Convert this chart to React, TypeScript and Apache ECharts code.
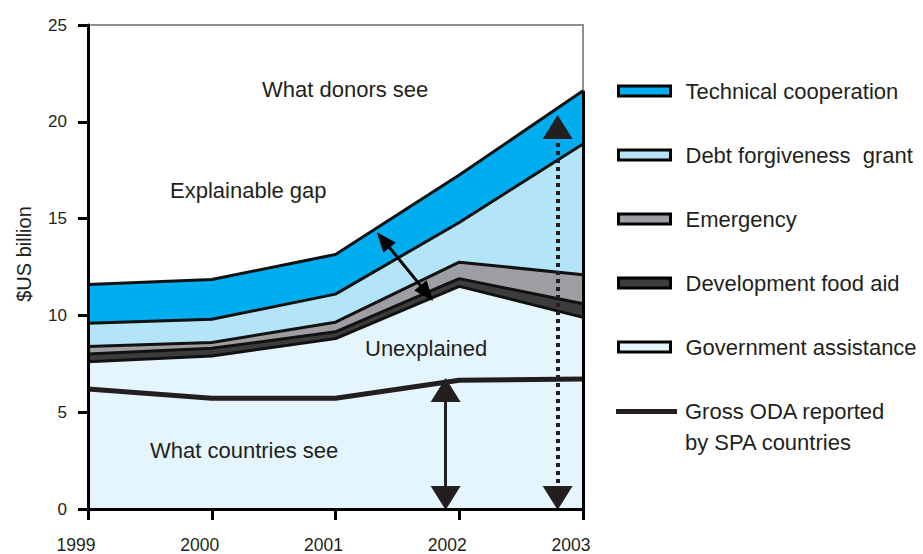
import React, { useEffect, useRef } from "react";
import * as echarts from "echarts";

const years = [1999, 2000, 2001, 2002, 2003];
const governmentAssistance = [7.6, 7.9, 8.8, 11.5, 9.9];
const developmentFoodAid = [0.4, 0.4, 0.35, 0.4, 0.7];
const emergency = [0.4, 0.3, 0.5, 0.85, 1.5];
const debtForgiveness = [1.2, 1.2, 1.45, 2.05, 6.75];
const technicalCooperation = [2.0, 2.05, 2.05, 2.45, 2.75];
const grossODA = [6.2, 5.72, 5.72, 6.65, 6.72];

const yTicks = { min: 0, max: 25, interval: 5 };

// annotation arrows (data coordinates: [year, $US billion])
const arrowCountries = [[2001.89, 6.15], [2001.89, 0.57]];
const arrowDonors = [[2002.795, 19.73], [2002.795, 0.57]];
const arrowGap = [[2001.386, 13.9], [2001.737, 11.15]];

const annotations = [
  { text: "What donors see", x: 262, y: 89 },
  { text: "Explainable gap", x: 170, y: 190 },
  { text: "Unexplained", x: 365, y: 348 },
  { text: "What countries see", x: 150, y: 450 },
];

const FONT = "'Liberation Sans', Arial, Helvetica, sans-serif";
const TEXT = "#231f20";

const areaDefs = [
  { name: "Government assistance", values: governmentAssistance, color: "#e5f5fd", z: 10 },
  { name: "Development food aid", values: developmentFoodAid, color: "#3c3c3c", z: 9 },
  { name: "Emergency", values: emergency, color: "#9d9ea1", z: 8 },
  { name: "Debt forgiveness  grant", values: debtForgiveness, color: "#b4e4f8", z: 7 },
  { name: "Technical cooperation", values: technicalCooperation, color: "#00aeef", z: 6 },
];

const odaName = "Gross ODA reported\nby SPA countries";

export default function App() {
  const ref = useRef<HTMLDivElement>(null);
  useEffect(() => {
    if (!ref.current) return;
    const chart = echarts.init(ref.current, null, { renderer: "svg" });
    const lastIdx = years.length - 1;
    const totalLast = areaDefs.reduce((s, d) => s + d.values[lastIdx], 0);

    const areaSeries = areaDefs.map((d) => ({
      name: d.name,
      type: "line",
      stack: "total",
      symbol: "none",
      xAxisIndex: 0,
      z: d.z,
      data: d.values,
      itemStyle: { color: d.color },
      lineStyle: { color: "#111", width: 3 },
      areaStyle: { color: d.color, opacity: 1 },
    }));

    const pt = (p: number[], extra: any = {}) => ({ coord: p, ...extra });

    const option: any = {
      animation: false,
      grid: {
        left: 88,
        right: 340,
        top: 25,
        bottom: 45,
        containLabel: false,
        outerBoundsMode: "none",
        show: true,
        borderColor: "#8f8f8f",
        borderWidth: 2,
        backgroundColor: "transparent",
      },
      xAxis: [
        {
          type: "category",
          data: years.map(String),
          boundaryGap: false,
          z: 30,
          axisLine: { show: true, lineStyle: { color: "#000", width: 3 } },
          axisTick: { show: true, length: 11, alignWithLabel: true, lineStyle: { color: "#000", width: 3 } },
          splitLine: { show: false },
          axisLabel: {
            fontSize: 17.5,
            lineHeight: 17,
            color: TEXT,
            fontFamily: FONT,
            margin: 27,
            padding: [0, 24, 0, 0],
          },
        },
        {
          type: "value",
          min: years[0],
          max: years[years.length - 1],
          interval: 1,
          show: false,
        },
      ],
      yAxis: {
        type: "value",
        min: yTicks.min,
        max: yTicks.max,
        interval: yTicks.interval,
        z: 30,
        name: "$US billion",
        nameLocation: "middle",
        nameGap: 54,
        nameTextStyle: { fontSize: 20, color: TEXT, fontFamily: FONT, padding: [0, 0, 0, 26] },
        axisLine: { show: true, lineStyle: { color: "#000", width: 3 } },
        axisTick: { show: true, length: 10, lineStyle: { color: "#000", width: 3 } },
        splitLine: { show: false },
        axisLabel: { fontSize: 17, color: TEXT, fontFamily: FONT, margin: 21 },
      },
      legend: [
        {
          orient: "vertical",
          left: 617,
          top: 79,
          padding: 0,
          itemWidth: 52,
          itemHeight: 10,
          itemGap: 40,
          icon: "rect",
          selectedMode: false,
          textStyle: { fontSize: 22, color: TEXT, fontFamily: FONT, lineHeight: 24, padding: [0, 0, 0, 10] },
          data: [...areaDefs].reverse().map((d) => ({
            name: d.name,
            itemStyle: { color: d.color, borderColor: "#000", borderWidth: 3 },
          })),
        },
        {
          orient: "vertical",
          left: 616,
          top: 365,
          padding: 0,
          itemWidth: 61,
          itemHeight: 5,
          icon: "rect",
          selectedMode: false,
          formatter: (name: string) => "\n" + name,
          textStyle: { fontSize: 22, color: TEXT, fontFamily: FONT, lineHeight: 31, padding: [0, 0, 0, 3] },
          data: [{ name: odaName, itemStyle: { color: TEXT, borderWidth: 0 } }],
        },
      ],
      series: [
        ...areaSeries,
        {
          name: odaName,
          type: "line",
          symbol: "none",
          xAxisIndex: 1,
          z: 20,
          data: years.map((y, i) => [y, grossODA[i]]),
          itemStyle: { color: TEXT },
          lineStyle: { color: TEXT, width: 5 },
          markLine: {
            silent: true,
            animation: false,
            z: 25,
            symbol: ["none", "none"],
            label: { show: false },
            emphasis: { disabled: true },
            data: [
              [
                pt([years[lastIdx], 0], { lineStyle: { color: "#000", width: 3, type: "solid" } }),
                pt([years[lastIdx], totalLast]),
              ],
              [
                pt(arrowCountries[0], {
                  symbol: "triangle",
                  symbolSize: [30, 24],
                  lineStyle: { color: TEXT, width: 3, type: "solid" },
                }),
                pt(arrowCountries[1], { symbol: "triangle", symbolSize: [30, 24] }),
              ],
              [
                pt(arrowDonors[0], {
                  symbol: "triangle",
                  symbolSize: [30, 24],
                  lineStyle: { color: TEXT, width: 4, type: [4, 4] },
                }),
                pt(arrowDonors[1], { symbol: "triangle", symbolSize: [30, 24] }),
              ],
              [
                pt(arrowGap[0], {
                  symbol: "triangle",
                  symbolSize: [16, 20],
                  lineStyle: { color: "#000", width: 3, type: "solid" },
                }),
                pt(arrowGap[1], { symbol: "triangle", symbolSize: [16, 20] }),
              ],
            ],
          },
        },
      ],
      graphic: annotations.map((a) => ({
        type: "text",
        x: a.x,
        y: a.y,
        z: 50,
        silent: true,
        style: { text: a.text, fontSize: 22, fontFamily: FONT, fill: TEXT, verticalAlign: "middle" },
      })),
    };
    chart.setOption(option);
    return () => chart.dispose();
  }, []);
  return <div ref={ref} style={{ width: 923, height: 554, position: "absolute", left: 0, top: 0 }} />;
}
